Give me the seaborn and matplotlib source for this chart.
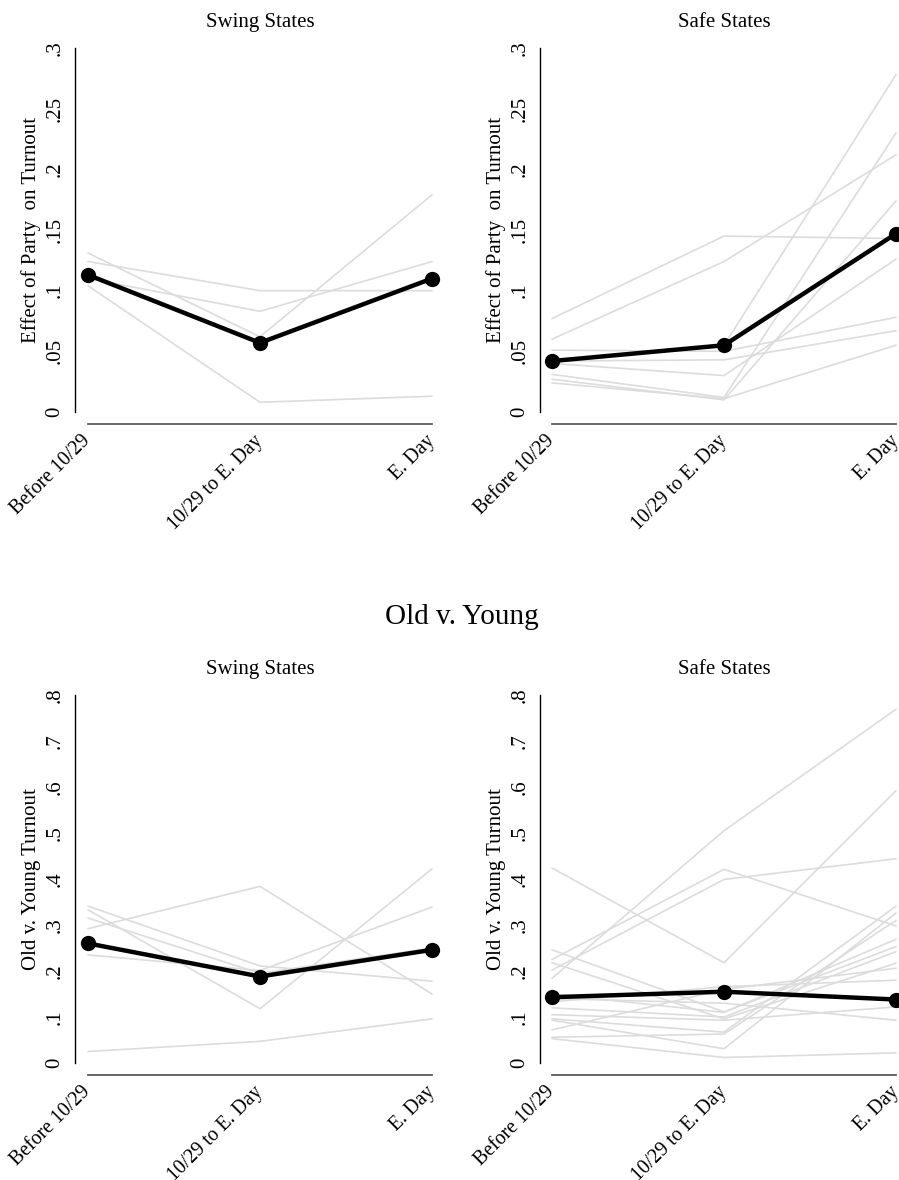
import matplotlib
matplotlib.use("Agg")
import matplotlib.pyplot as plt
import numpy as np
import pandas as pd
import seaborn as sns

# ---------------------------------------------------------------- data
periods = ["Before 10/29", "10/29 to E. Day", "E. Day"]

party_ticks = [0, 0.05, 0.10, 0.15, 0.20, 0.25, 0.30]
party_ticklabels = ["0", ".05", ".1", ".15", ".2", ".25", ".3"]
age_ticks = [0, 0.1, 0.2, 0.3, 0.4, 0.5, 0.6, 0.7, 0.8]
age_ticklabels = ["0", ".1", ".2", ".3", ".4", ".5", ".6", ".7", ".8"]

# Effect of party on turnout, swing states
party_swing_avg = [0.113, 0.057, 0.110]
party_swing_states = [
    [0.131, 0.062, 0.179],
    [0.124, 0.100, 0.100],
    [0.110, 0.083, 0.124],
    [0.104, 0.008, 0.013],
]

# Effect of party on turnout, safe states
party_safe_avg = [0.042, 0.055, 0.147]
party_safe_states = [
    [0.077, 0.145, 0.143],
    [0.060, 0.124, 0.212],
    [0.051, 0.050, 0.078],
    [0.042, 0.043, 0.067],
    [0.041, 0.055, 0.278],
    [0.040, 0.030, 0.126],
    [0.031, 0.012, 0.230],
    [0.027, 0.010, 0.174],
    [0.024, 0.011, 0.055],
]

# Old v. young turnout, swing states
age_swing_avg = [0.260, 0.188, 0.246]
age_swing_states = [
    [0.341, 0.211, 0.178],
    [0.333, 0.118, 0.422],
    [0.315, 0.195, 0.250],
    [0.292, 0.384, 0.150],
    [0.235, 0.201, 0.339],
    [0.025, 0.047, 0.096],
]

# Old v. young turnout, safe states
age_safe_avg = [0.143, 0.155, 0.138]
age_safe_states = [
    [0.424, 0.218, 0.592],
    [0.184, 0.505, 0.769],
    [0.225, 0.421, 0.298],
    [0.202, 0.399, 0.444],
    [0.246, 0.111, 0.253],
    [0.218, 0.096, 0.217],
    [0.133, 0.166, 0.180],
    [0.105, 0.093, 0.122],
    [0.096, 0.067, 0.341],
    [0.093, 0.031, 0.326],
    [0.072, 0.160, 0.206],
    [0.056, 0.063, 0.310],
    [0.053, 0.012, 0.022],
    [0.150, 0.110, 0.269],
    [0.140, 0.130, 0.093],
    [0.120, 0.100, 0.242],
]

# ---------------------------------------------------------------- style
sns.set_style("white")
plt.rcParams["font.family"] = ["Liberation Serif", "DejaVu Serif"]
plt.rcParams["axes.linewidth"] = 1.0
for key in ("text.color", "axes.labelcolor", "xtick.color", "ytick.color",
            "axes.titlecolor"):
    plt.rcParams[key] = "black"

W, H = 899, 1180
fig = plt.figure(figsize=(W / 100, H / 100), dpi=100)
fig.patch.set_facecolor("white")

GRAY = "#dcdcdc"
AXIS_GRAY = "#5c5c5c"
FS = 15


def long_frame(states):
    rows = []
    for i, vals in enumerate(states):
        for t, v in enumerate(vals):
            rows.append({"state": i, "t": t, "value": v})
    return pd.DataFrame(rows)


def panel(rect_px, first_tick_px, states, avg, ymax, ticks, ticklabels,
          ylabel, title):
    left, top, right, bottom = rect_px
    ax = fig.add_axes([left / W, 1 - bottom / H, (right - left) / W,
                       (bottom - top) / H])
    span = right - first_tick_px
    xmin = -2.0 * (first_tick_px - left) / span

    sns.lineplot(data=long_frame(states), x="t", y="value", units="state",
                 estimator=None, color=GRAY, linewidth=1.2, ax=ax,
                 legend=False)
    sns.lineplot(x=np.arange(len(avg)), y=avg, color="black", linewidth=3.2,
                 marker="o", markersize=11, markeredgecolor="black",
                 markeredgewidth=0, ax=ax, legend=False)
    for ln in ax.lines:
        ln.set_clip_on(False)

    ax.set_xlim(xmin, 2)
    ax.set_ylim(0, ymax)

    ax.spines["top"].set_visible(False)
    ax.spines["right"].set_visible(False)
    ax.spines["left"].set_color("black")
    ax.spines["bottom"].set_color(AXIS_GRAY)
    ax.spines["bottom"].set_linewidth(1.3)
    ax.spines["bottom"].set_position(("outward", 8.6))
    ax.spines["bottom"].set_bounds(0, 2)

    ax.set_xticks(range(len(periods)))
    ax.set_xticklabels(periods, rotation=45, ha="right", va="center",
                       rotation_mode="anchor", fontsize=14.3)
    ax.tick_params(axis="x", direction="out", length=6.5, width=1.3,
                   color=AXIS_GRAY, labelcolor="black", pad=4)

    ax.set_yticks(ticks)
    ax.set_yticklabels(ticklabels, rotation=90, va="center", fontsize=FS)
    ax.tick_params(axis="y", direction="out", length=5.8, width=1.0,
                   color="black", labelcolor="black", pad=2)

    ax.set_xlabel("")
    ax.set_ylabel(ylabel, fontsize=FS, color="black")
    ax.yaxis.set_label_coords(-34 / (right - left), 0.5)

    ax.set_title(title, fontsize=FS, pad=15, color="black",
                 x=((first_tick_px + right) / 2 - left) / (right - left))
    return ax


party_label = "Effect of Party  on Turnout"
age_label = "Old v. Young Turnout"

panel((75, 48, 432, 412), 88, party_swing_states, party_swing_avg, 0.3,
      party_ticks, party_ticklabels, party_label, "Swing States")
panel((540, 48, 896, 412), 552, party_safe_states, party_safe_avg, 0.3,
      party_ticks, party_ticklabels, party_label, "Safe States")
panel((75, 695, 432, 1063), 88, age_swing_states, age_swing_avg, 0.8,
      age_ticks, age_ticklabels, age_label, "Swing States")
panel((540, 695, 896, 1063), 552, age_safe_states, age_safe_avg, 0.8,
      age_ticks, age_ticklabels, age_label, "Safe States")

fig.text(462 / W, 1 - 617 / H, "Old v. Young", fontsize=21, color="black",
         ha="center", va="center")

fig.savefig("out.png", dpi=100)
